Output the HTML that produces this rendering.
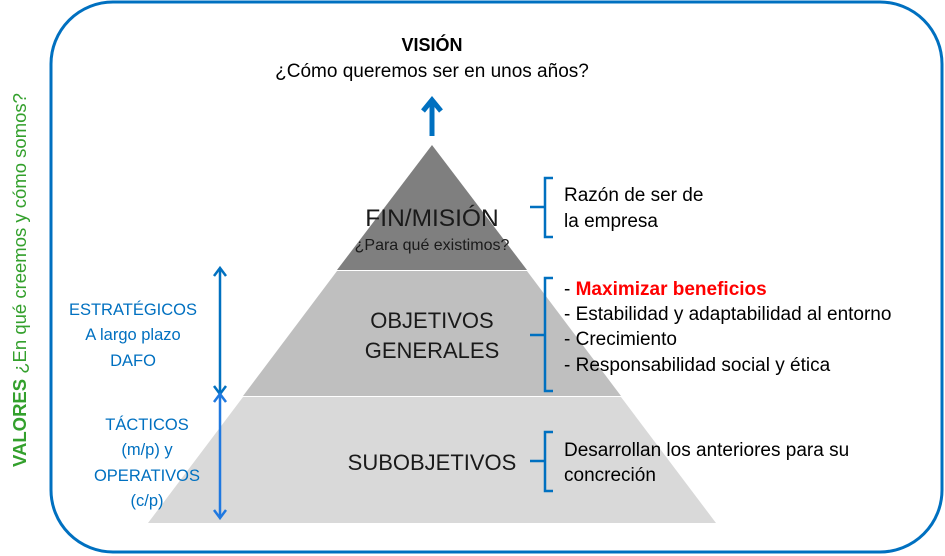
<!DOCTYPE html>
<html><head><meta charset="utf-8"><style>
html,body{margin:0;padding:0;background:#fff;}
svg{display:block;font-family:"Liberation Sans",sans-serif;}
</style></head><body>
<svg width="945" height="556" viewBox="0 0 945 556" xmlns="http://www.w3.org/2000/svg">
<rect x="51" y="2" width="891" height="550" rx="62" ry="62" fill="none" stroke="#0070C0" stroke-width="3"/>
<polygon points="148,523 243,397 621,397 716,523" fill="#D9D9D9"/>
<polygon points="243,396 337,271 527,271 621,396" fill="#BFBFBF"/>
<polygon points="337,270 432,145 527,270" fill="#7F7F7F"/>
<line x1="432" y1="136" x2="432" y2="102" stroke="#0070C0" stroke-width="5"/>
<polyline points="423,111 432,100 441,111" fill="none" stroke="#0070C0" stroke-width="5" stroke-linejoin="miter"/>
<text x="432" y="51" font-size="18" font-weight="bold" text-anchor="middle" fill="#000">VISIÓN</text>
<text x="432" y="77" font-size="19" text-anchor="middle" fill="#000">¿Cómo queremos ser en unos años?</text>
<text x="432" y="226" font-size="24.5" text-anchor="middle" fill="#1a1a1a">FIN/MISIÓN</text>
<text x="432" y="250" font-size="16" text-anchor="middle" fill="#1a1a1a">¿Para qué existimos?</text>
<text x="432" y="328" font-size="22" text-anchor="middle" fill="#1a1a1a">OBJETIVOS</text>
<text x="432" y="358" font-size="22" text-anchor="middle" fill="#1a1a1a">GENERALES</text>
<text x="432" y="470" font-size="22" text-anchor="middle" fill="#1a1a1a">SUBOBJETIVOS</text>
<g fill="none" stroke="#0070C0" stroke-width="2.5">
<path d="M553,178 H545 V237 H553 M545,207 H530"/>
<path d="M553,278 H545 V391 H553 M545,335 H530"/>
<path d="M553,432 H545 V491 H553 M545,461 H530"/>
</g>
<g font-size="19" fill="#000">
<text x="564" y="201">Razón de ser de</text>
<text x="564" y="227">la empresa</text>
<text x="564" y="295">- <tspan fill="#FF0000" font-weight="bold">Maximizar beneficios</tspan></text>
<text x="564" y="320">- Estabilidad y adaptabilidad al entorno</text>
<text x="564" y="345">- Crecimiento</text>
<text x="564" y="371">- Responsabilidad social y ética</text>
<text x="564" y="456">Desarrollan los anteriores para su</text>
<text x="564" y="481">concreción</text>
</g>
<g fill="none" stroke-width="2.5">
<line x1="220" y1="268" x2="220" y2="394" stroke="#0070C0"/>
<polyline points="214,276 220,268 226,276" stroke="#0070C0"/>
<polyline points="214,386 220,394 226,386" stroke="#0070C0"/>
<line x1="220" y1="394" x2="220" y2="518" stroke="#1F78E0"/>
<polyline points="214,402 220,394 226,402" stroke="#1F78E0"/>
<polyline points="214,510 220,518 226,510" stroke="#1F78E0"/>
</g>
<g font-size="16.5" fill="#0070C0" text-anchor="middle">
<text x="133" y="315">ESTRATÉGICOS</text>
<text x="133" y="340">A largo plazo</text>
<text x="133" y="366">DAFO</text>
<text x="147" y="430">TÁCTICOS</text>
<text x="147" y="455">(m/p) y</text>
<text x="147" y="481">OPERATIVOS</text>
<text x="147" y="506">(c/p)</text>
</g>
<text transform="translate(26,280) rotate(-90)" text-anchor="middle" font-size="18.5" fill="#33A02C"><tspan font-weight="bold">VALORES</tspan> ¿En qué creemos y cómo somos?</text>
</svg>
</body></html>
